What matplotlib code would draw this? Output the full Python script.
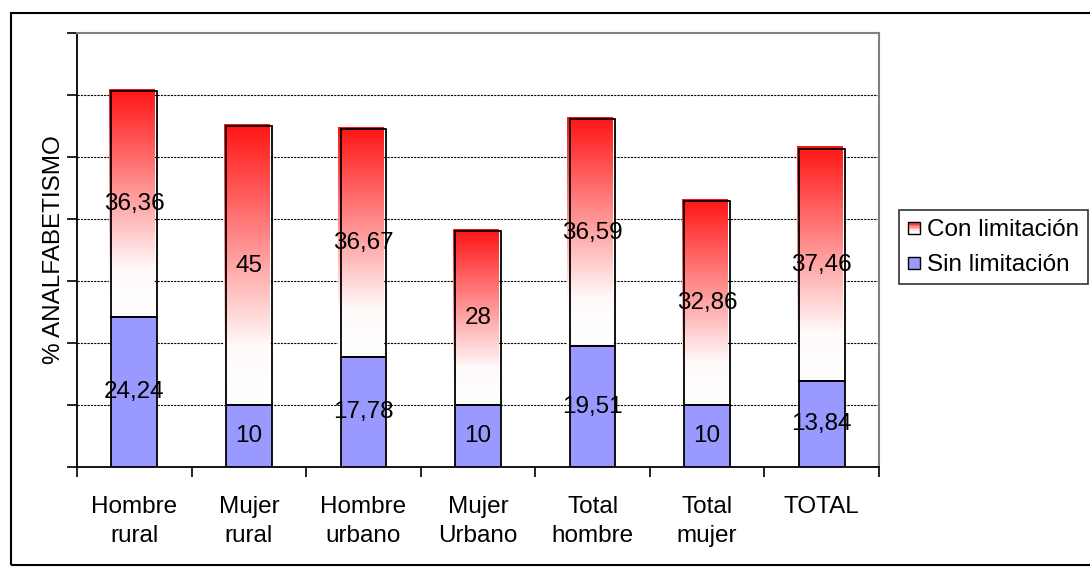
import numpy as np
import matplotlib.pyplot as plt
from matplotlib.colors import LinearSegmentedColormap
from matplotlib.patches import Patch, Rectangle
from matplotlib.legend_handler import HandlerBase

plt.rcParams['font.family'] = ['Liberation Sans', 'DejaVu Sans']

categories = ['Hombre\nrural', 'Mujer\nrural', 'Hombre\nurbano', 'Mujer\nUrbano',
              'Total\nhombre', 'Total\nmujer', 'TOTAL']
sin_limitacion = [24.24, 10, 17.78, 10, 19.51, 10, 13.84]
con_limitacion = [36.36, 45, 36.67, 28, 36.59, 32.86, 37.46]

FS = 17.5
BLUE = '#9999ff'
red_white = LinearSegmentedColormap.from_list(
    'rw', [(0.0, '#ffffff'), (0.2, '#fffafa'), (1.0, '#ff1414')])
grad = np.linspace(0, 1, 256).reshape(-1, 1)


class GradientHandler(HandlerBase):
    # legend swatch: red-to-white strips inside a black square
    def create_artists(self, legend, orig_handle, xdescent, ydescent,
                       width, height, fontsize, trans):
        size = min(width, height)
        x0 = -xdescent + (width - size) / 2
        y0 = -ydescent
        arts = []
        n = 8
        for i in range(n):
            c = red_white(1 - i / (n - 1))
            arts.append(Rectangle((x0, y0 + size - (i + 1) * size / n), size, size / n,
                                  facecolor=c, edgecolor='none', transform=trans))
        arts.append(Rectangle((x0, y0), size, size, facecolor='none',
                              edgecolor='black', lw=1, transform=trans))
        return arts


class SquareHandler(HandlerBase):
    def create_artists(self, legend, orig_handle, xdescent, ydescent,
                       width, height, fontsize, trans):
        size = min(width, height)
        x0 = -xdescent + (width - size) / 2
        return [Rectangle((x0, -ydescent), size, size, facecolor=orig_handle.get_facecolor(),
                          edgecolor='black', lw=1, transform=trans)]


fig = plt.figure(figsize=(10.9, 5.75), dpi=100)
fig.patches.append(Rectangle((11 / 1090, 1 - 565 / 575), 1.2, (565 - 13) / 575,
                             transform=fig.transFigure, facecolor='none',
                             edgecolor='black', lw=1.5))
ax = fig.add_axes([77 / 1090, 1 - 467 / 575, (879 - 77) / 1090, (467 - 33) / 575])

x = np.arange(len(categories))
w = 0.4
bottom_bars = ax.bar(x, sin_limitacion, w, color=BLUE, edgecolor='black', lw=1.3, zorder=3)
top_bars = ax.bar(x, con_limitacion, w, bottom=sin_limitacion, facecolor='none',
                  edgecolor='black', lw=1.3, zorder=4)

# gradient fill sits slightly up and left of the outline
dx, dy = 0.02, 0.35
for bar in top_bars:
    x0, y0 = bar.get_x(), bar.get_y()
    ax.imshow(grad, cmap=red_white, origin='lower', aspect='auto', zorder=3,
              extent=[x0 - dx, x0 + bar.get_width() - dx, y0 + dy, y0 + bar.get_height() + dy],
              interpolation='bilinear')

for bars, vals in ((bottom_bars, sin_limitacion), (top_bars, con_limitacion)):
    for bar, v in zip(bars, vals):
        ax.text(bar.get_x() + bar.get_width() / 2, bar.get_y() + bar.get_height() / 2,
                f'{v:g}'.replace('.', ','), ha='center', va='center',
                fontsize=FS, zorder=5)

ax.set_xlim(-0.5, len(categories) - 0.5)
ax.set_ylim(0, 70)
ax.set_yticks(np.arange(0, 71, 10))
ax.set_yticklabels([])
ax.tick_params(axis='y', direction='out', length=7, width=1.2)

ax.set_xticks(x)
ax.set_xticklabels(categories, fontsize=FS, linespacing=1.4)
ax.set_xticks(np.arange(-0.5, len(categories), 1), minor=True)
ax.tick_params(axis='x', which='major', length=0, pad=21)
ax.tick_params(axis='x', which='minor', direction='out', length=7, width=1.2)

for yv in range(10, 70, 10):
    ax.axhline(yv, color='black', lw=0.8, ls=(0, (2, 1)), zorder=1)

ax.spines['left'].set_linewidth(1.3)
ax.spines['bottom'].set_linewidth(1.3)
ax.spines['top'].set_color('#808080')
ax.spines['right'].set_color('#808080')
ax.spines['top'].set_linewidth(1.5)
ax.spines['right'].set_linewidth(1.5)

ax.set_ylabel('% ANALFABETISMO', fontsize=FS, va='center')
ax.yaxis.set_label_coords((54 - 77) / 802, 0.5)

con_handle = Patch(facecolor='white', label='Con limitación')
sin_handle = Patch(facecolor=BLUE, label='Sin limitación')
leg = fig.legend([con_handle, sin_handle], ['Con limitación', 'Sin limitación'],
                 handler_map={con_handle: GradientHandler(), sin_handle: SquareHandler()},
                 loc='upper left', bbox_to_anchor=(899 / 1090, 1 - 210 / 575),
                 fontsize=FS, frameon=True, fancybox=False, handlelength=0.5,
                 handleheight=0.5, handletextpad=0.3, labelspacing=0.55,
                 borderpad=0.35, borderaxespad=0)
leg.get_frame().set_edgecolor('black')
leg.get_frame().set_linewidth(1.2)

fig.savefig('out.png', dpi=100)
